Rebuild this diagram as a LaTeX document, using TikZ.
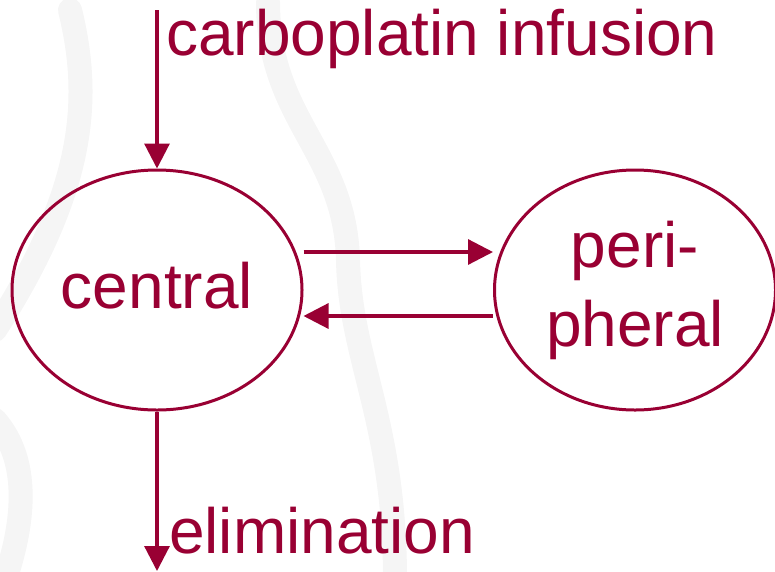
\documentclass[tikz,border=0pt]{standalone}
\usepackage{fontspec}
\setmainfont{Liberation Sans}
\usepackage{tikz}
\usetikzlibrary{
  arrows.meta,
  shapes.geometric,
  positioning,
  calc
}
\definecolor{pkRed}{HTML}{990033}
\definecolor{pkMark}{HTML}{F5F5F5}
\tikzset{
  pkfont/.style={font=\fontsize{64}{79}\selectfont},
  compartment/.style={
    draw=pkRed, ellipse, line width=3pt, inner sep=0pt,
    minimum height=240pt, text=pkRed, align=center, pkfont
  },
  label/.style={text=pkRed, inner sep=0pt, anchor=base west, pkfont},
  flow/.style={-{Triangle[length=25pt,width=25pt]}, line width=3.2pt, pkRed},
  watermark/.style={pkMark, line width=24pt, line cap=round}
}

\begin{document}
\begin{tikzpicture}[x=1pt, y=1pt]
  \useasboundingbox (0,0) rectangle (775,-571);
  % faint background curves
  \draw[watermark] (268,-2) .. controls (268,-120) and (345,-150) .. (348,-260)
    .. controls (350,-360) and (395,-420) .. (395,-580);
  \draw[watermark] (70,-10) .. controls (92,-100) and (85,-190) .. (-5,-330);
  \draw[watermark] (-5,-420) .. controls (30,-460) and (25,-520) .. (5,-580);
  % compartments
  \node[compartment, minimum width=290pt, text depth=10pt] (central) at (157,-290) {central};
  \node[compartment, minimum width=281pt] (periph) at (635,-290) {peri-\\pheral};
  % inputs and outputs
  \coordinate (dose) at (central.north |- 0,-10);
  \coordinate (out) at (central.south |- 0,-571);
  \node[label] (infusion) at (166,-55) {carboplatin infusion};
  \node[label] (elim) at (169,-553) {elimination};
  \draw[flow] (dose) -- (central.north);
  \draw[flow] (central.south) -- (out);
  \draw[flow] ([yshift=38pt]central.east) -- ([yshift=38pt]periph.west);
  \draw[flow] ([yshift=-26pt]periph.west) -- ([yshift=-26pt]central.east);
\end{tikzpicture}
\end{document}
